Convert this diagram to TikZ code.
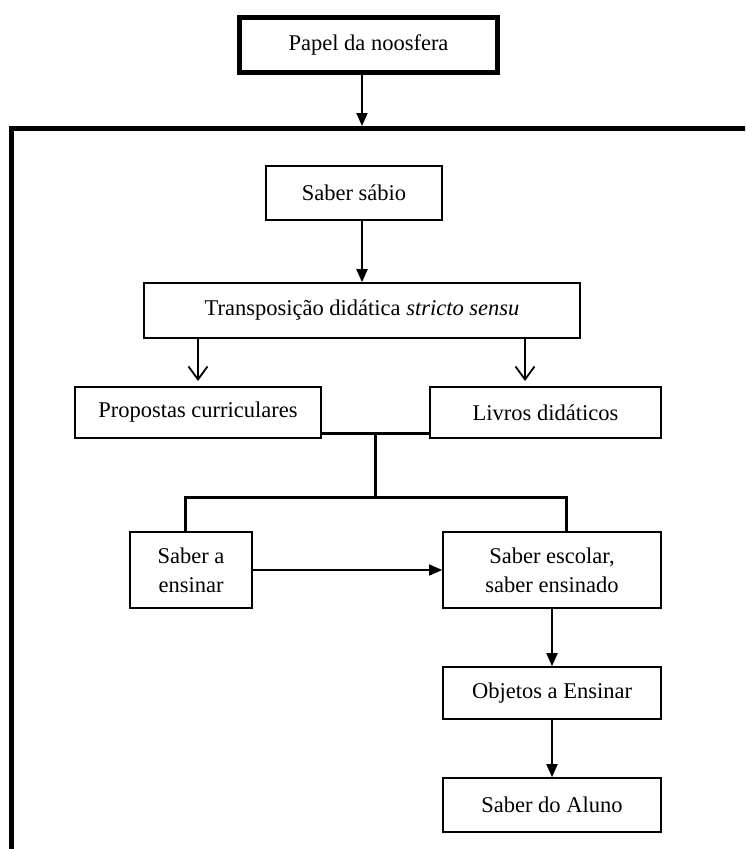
\documentclass[tikz,border=0pt]{standalone}
\usepackage{fontspec}
\setmainfont{Liberation Serif}
\usetikzlibrary{arrows.meta}
\begin{document}
\begin{tikzpicture}[x=1pt,y=-1pt,
  bx/.style={draw, line width=1.6pt, inner sep=0pt, align=center,
    font=\fontsize{22.5}{29}\selectfont},
  arr/.style={line width=1.8pt, -{Triangle[length=13pt,width=11pt]}},
  oarr/.style={line width=1.8pt, -{Straight Barb[length=13pt,width=19pt,line width=1.8pt]}},
  thin arr/.style={line width=1.2pt, -{Triangle[length=13pt,width=11pt]}},
  link/.style={line width=3pt},
  frame/.style={line width=5pt}]
\useasboundingbox (0,0) rectangle (745,849);
\clip (0,0) rectangle (745,849);
\fill[white] (0,0) rectangle (745,849);

\node[bx, line width=4.5pt, minimum width=258pt, minimum height=55pt] (papel) at (368.5,45) {Papel da noosfera};
\node[bx, minimum width=176pt, minimum height=54pt] (sabio) at (354,193) {Saber sábio};
\node[bx, minimum width=436pt, minimum height=55pt] (trans) at (362,310.5) {Transposição didática \textit{stricto sensu}};
\node[bx, minimum width=246pt, minimum height=51pt] (prop) at (198,412.5) {Propostas curriculares};
\node[bx, minimum width=231pt, minimum height=51pt] (livros) at (545.5,412.5) {Livros didáticos};
\node[bx, minimum width=122pt, minimum height=76pt] (sae) at (191,570) {Saber a\\ensinar};
\node[bx, minimum width=218pt, minimum height=76pt] (esc) at (552,570) {Saber escolar,\\saber ensinado};
\node[bx, minimum width=218pt, minimum height=52pt] (obj) at (552,693) {Objetos a Ensinar};
\node[bx, minimum width=218pt, minimum height=54pt] (aluno) at (552,805) {Saber do Aluno};

% frame
\coordinate (ftop) at (362,126);
\draw[frame] (760,128.5) -- (11.5,128.5) -- (11.5,860);
\draw[arr] (ftop |- papel.south) -- (ftop);

\draw[arr] (sabio.south -| trans.north) -- (trans.north);

\coordinate (rl) at (198,381);
\coordinate (rr) at (525,381);
\draw[oarr] (trans.south -| rl) -- (rl);
\draw[oarr] (trans.south -| rr) -- (rr);

\coordinate (j1) at (375,433);
\coordinate (j2) at (375,497);
\coordinate (jl) at (185,497);
\coordinate (jr) at (566,497);
\draw[link] (prop.east |- j1) -- (livros.west |- j1);
\draw[link] (j1) -- (j2);
\draw[link, line cap=rect] (sae.north -| jl) -- (jl) -- (jr) -- (esc.north -| jr);

\draw[thin arr] (sae.east) -- (esc.west);
\draw[arr] (esc.south) -- (obj.north);
\draw[arr] (obj.south) -- (aluno.north);
\end{tikzpicture}
\end{document}
